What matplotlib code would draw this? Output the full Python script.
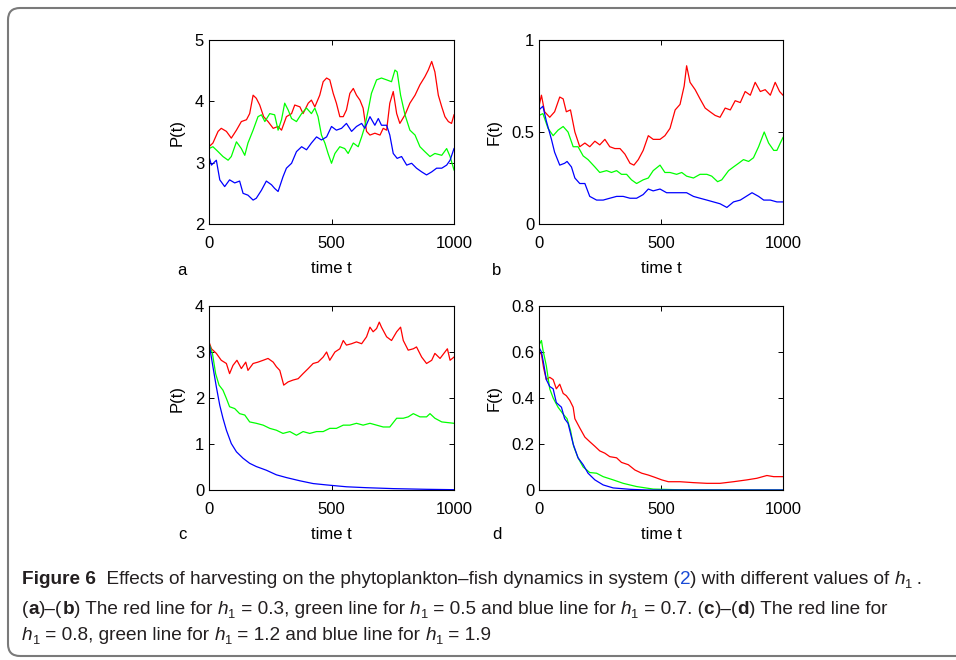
import matplotlib
matplotlib.use("Agg")
import matplotlib.pyplot as plt
import matplotlib.patches as mpatches
from matplotlib.transforms import IdentityTransform

# ---------------- data ----------------
# Panel a : P(t)
a_red_t = [0, 16, 37, 50, 71, 91, 112, 132, 153, 166, 180, 193, 207, 223, 241, 262, 282, 296, 316, 337, 350, 371, 384, 405, 418, 432, 452, 466, 480, 493, 507, 520, 534, 548, 561, 575, 589, 602, 616, 629, 643, 657, 677, 698, 711, 725, 738, 752, 766, 779, 800, 820, 841, 861, 881, 895, 909, 922, 936, 950, 963, 977, 990, 1000]
a_red_v = [3.26, 3.32, 3.51, 3.56, 3.51, 3.40, 3.53, 3.67, 3.70, 3.80, 4.10, 4.05, 3.94, 3.75, 3.67, 3.56, 3.59, 3.53, 3.75, 3.80, 3.94, 3.91, 3.80, 3.97, 4.02, 3.91, 4.10, 4.32, 4.38, 4.35, 4.13, 3.97, 3.75, 3.75, 3.86, 4.13, 4.21, 4.10, 4.02, 3.89, 3.51, 3.45, 3.48, 3.45, 3.56, 3.53, 3.97, 4.16, 3.80, 3.64, 3.78, 3.97, 4.10, 4.27, 4.40, 4.51, 4.65, 4.48, 4.10, 3.91, 3.75, 3.67, 3.64, 3.78]
a_green_t = [0, 16, 37, 57, 78, 91, 112, 132, 146, 159, 180, 200, 214, 228, 248, 268, 282, 296, 309, 323, 337, 357, 378, 398, 418, 432, 445, 459, 473, 486, 500, 514, 534, 554, 568, 589, 609, 623, 636, 650, 663, 684, 704, 725, 745, 759, 768, 782, 800, 820, 841, 861, 881, 902, 922, 950, 970, 984, 1000]
a_green_v = [3.23, 3.26, 3.18, 3.10, 3.04, 3.10, 3.34, 3.23, 3.12, 3.32, 3.53, 3.75, 3.78, 3.67, 3.80, 3.78, 3.53, 3.70, 3.97, 3.86, 3.72, 3.67, 3.80, 3.89, 3.80, 3.89, 3.75, 3.45, 3.32, 3.15, 2.99, 3.15, 3.26, 3.23, 3.15, 3.32, 3.26, 3.42, 3.59, 3.86, 4.13, 4.35, 4.38, 4.35, 4.32, 4.51, 4.48, 4.10, 3.78, 3.53, 3.45, 3.26, 3.18, 3.10, 3.15, 3.12, 3.23, 3.10, 2.88]
a_blue_t = [0, 10, 30, 44, 64, 84, 105, 125, 139, 159, 180, 193, 214, 234, 255, 268, 282, 302, 316, 337, 357, 378, 398, 418, 439, 459, 480, 500, 520, 541, 561, 582, 602, 623, 636, 657, 677, 691, 704, 725, 738, 752, 768, 786, 807, 827, 847, 868, 888, 909, 929, 950, 970, 984, 1000]
a_blue_v = [3.10, 2.96, 3.04, 2.72, 2.61, 2.72, 2.67, 2.70, 2.50, 2.47, 2.39, 2.42, 2.55, 2.70, 2.64, 2.58, 2.53, 2.77, 2.91, 2.99, 3.18, 3.26, 3.21, 3.32, 3.42, 3.37, 3.42, 3.59, 3.53, 3.56, 3.64, 3.51, 3.59, 3.64, 3.56, 3.75, 3.61, 3.72, 3.61, 3.61, 3.45, 3.15, 3.07, 3.10, 2.96, 2.99, 2.91, 2.85, 2.80, 2.85, 2.91, 2.91, 2.96, 3.04, 3.23]

# Panel b : F(t)
b_red_t = [0, 10, 23, 44, 64, 85, 99, 112, 129, 147, 167, 188, 208, 229, 249, 270, 290, 311, 332, 352, 373, 389, 407, 427, 448, 468, 496, 516, 537, 558, 578, 595, 605, 619, 640, 660, 681, 701, 722, 742, 763, 784, 804, 825, 845, 866, 886, 907, 927, 948, 968, 986, 1000]
b_red_v = [0.64, 0.70, 0.61, 0.58, 0.61, 0.69, 0.68, 0.61, 0.62, 0.50, 0.42, 0.44, 0.42, 0.45, 0.43, 0.46, 0.42, 0.41, 0.41, 0.38, 0.33, 0.32, 0.35, 0.40, 0.48, 0.46, 0.46, 0.48, 0.52, 0.62, 0.65, 0.75, 0.86, 0.77, 0.73, 0.68, 0.63, 0.61, 0.59, 0.58, 0.63, 0.62, 0.67, 0.66, 0.72, 0.70, 0.77, 0.72, 0.73, 0.70, 0.77, 0.72, 0.70]
b_green_t = [0, 16, 37, 58, 78, 99, 119, 140, 160, 181, 201, 229, 249, 277, 297, 318, 338, 359, 379, 400, 427, 448, 468, 496, 516, 537, 564, 585, 605, 633, 660, 688, 708, 732, 749, 777, 797, 818, 838, 859, 879, 900, 923, 941, 962, 975, 989, 1000]
b_green_v = [0.59, 0.60, 0.52, 0.48, 0.51, 0.53, 0.50, 0.42, 0.42, 0.37, 0.35, 0.31, 0.28, 0.29, 0.28, 0.29, 0.27, 0.27, 0.24, 0.22, 0.24, 0.25, 0.29, 0.32, 0.28, 0.28, 0.27, 0.28, 0.26, 0.25, 0.27, 0.27, 0.26, 0.23, 0.24, 0.29, 0.31, 0.33, 0.35, 0.34, 0.36, 0.42, 0.50, 0.44, 0.40, 0.40, 0.44, 0.47]
b_blue_t = [0, 16, 30, 51, 64, 85, 105, 115, 133, 147, 167, 188, 208, 236, 263, 290, 318, 345, 373, 400, 427, 448, 468, 496, 523, 551, 578, 605, 633, 660, 688, 715, 742, 770, 797, 825, 849, 873, 900, 921, 948, 975, 1000]
b_blue_v = [0.62, 0.64, 0.56, 0.46, 0.39, 0.32, 0.33, 0.34, 0.31, 0.25, 0.22, 0.22, 0.15, 0.13, 0.13, 0.14, 0.15, 0.15, 0.14, 0.14, 0.16, 0.19, 0.18, 0.19, 0.17, 0.17, 0.17, 0.17, 0.15, 0.14, 0.13, 0.12, 0.11, 0.09, 0.12, 0.13, 0.15, 0.17, 0.15, 0.13, 0.13, 0.12, 0.12]

# Panel c : P(t)
c_red_t = [0, 10, 30, 50, 71, 84, 98, 114, 132, 150, 159, 180, 200, 221, 241, 262, 275, 289, 305, 323, 343, 364, 384, 405, 425, 445, 466, 480, 493, 514, 534, 548, 561, 582, 602, 623, 643, 657, 670, 684, 695, 704, 725, 745, 766, 782, 793, 813, 834, 847, 868, 888, 909, 922, 943, 963, 973, 984, 1000]
c_red_v = [3.22, 3.07, 2.97, 2.82, 2.75, 2.53, 2.71, 2.82, 2.64, 2.78, 2.60, 2.75, 2.78, 2.82, 2.86, 2.78, 2.68, 2.60, 2.28, 2.35, 2.39, 2.42, 2.53, 2.64, 2.75, 2.78, 2.89, 3.00, 2.82, 3.00, 3.07, 3.25, 3.15, 3.18, 3.22, 3.18, 3.33, 3.54, 3.44, 3.51, 3.65, 3.54, 3.33, 3.25, 3.44, 3.54, 3.25, 3.04, 3.07, 3.11, 2.89, 2.75, 2.82, 2.97, 2.86, 3.00, 3.07, 2.82, 2.89]
c_green_t = [0, 14, 27, 41, 57, 71, 84, 105, 125, 146, 166, 193, 221, 248, 275, 302, 330, 357, 384, 411, 439, 466, 493, 520, 548, 575, 602, 629, 657, 684, 711, 738, 766, 793, 813, 834, 861, 888, 902, 922, 950, 1000]
c_green_v = [3.18, 2.97, 2.53, 2.28, 2.17, 1.99, 1.81, 1.77, 1.66, 1.63, 1.48, 1.45, 1.41, 1.34, 1.30, 1.23, 1.27, 1.19, 1.27, 1.23, 1.27, 1.27, 1.34, 1.34, 1.41, 1.41, 1.45, 1.41, 1.45, 1.41, 1.37, 1.37, 1.56, 1.56, 1.59, 1.66, 1.59, 1.59, 1.66, 1.56, 1.48, 1.45]
c_blue_t = [0, 16, 30, 44, 57, 71, 91, 112, 139, 166, 193, 234, 275, 316, 371, 425, 480, 561, 643, 752, 888, 1000]
c_blue_v = [3.20, 2.68, 2.24, 1.84, 1.56, 1.30, 1.01, 0.83, 0.69, 0.58, 0.51, 0.43, 0.33, 0.27, 0.20, 0.14, 0.11, 0.07, 0.05, 0.03, 0.015, 0.007]

# Panel d : F(t)
d_red_t = [0, 10, 19, 30, 44, 58, 71, 85, 99, 112, 126, 140, 147, 167, 188, 208, 229, 249, 270, 290, 318, 338, 366, 393, 421, 448, 475, 503, 530, 578, 633, 688, 742, 797, 852, 893, 934, 962, 1000]
d_red_v = [0.60, 0.59, 0.53, 0.48, 0.49, 0.48, 0.44, 0.46, 0.42, 0.41, 0.39, 0.36, 0.31, 0.27, 0.23, 0.21, 0.19, 0.17, 0.16, 0.145, 0.14, 0.12, 0.11, 0.087, 0.073, 0.065, 0.055, 0.044, 0.036, 0.036, 0.032, 0.029, 0.029, 0.036, 0.044, 0.051, 0.063, 0.058, 0.058]
d_green_t = [0, 10, 16, 30, 44, 58, 78, 99, 115, 129, 142, 160, 181, 208, 236, 263, 304, 345, 400, 468, 578, 1000]
d_green_v = [0.63, 0.65, 0.61, 0.54, 0.44, 0.40, 0.36, 0.33, 0.31, 0.26, 0.19, 0.14, 0.10, 0.076, 0.073, 0.058, 0.044, 0.029, 0.015, 0.004, 0.001, 0.0]
d_blue_t = [0, 10, 19, 30, 44, 58, 71, 92, 105, 119, 140, 160, 181, 201, 229, 263, 304, 373, 441, 1000]
d_blue_v = [0.62, 0.60, 0.55, 0.48, 0.45, 0.44, 0.38, 0.36, 0.31, 0.29, 0.20, 0.14, 0.11, 0.073, 0.044, 0.022, 0.009, 0.003, 0.0, 0.0]

x_ticks = [0, 500, 1000]
a_yticks = [2, 3, 4, 5]
b_yticks = [0, 0.5, 1]
c_yticks = [0, 1, 2, 3, 4]
d_yticks = [0, 0.2, 0.4, 0.6, 0.8]
a_ytick_labels = ["2", "3", "4", "5"]
b_ytick_labels = ["0", "0.5", "1"]
c_ytick_labels = ["0", "1", "2", "3", "4"]
d_ytick_labels = ["0", "0.2", "0.4", "0.6", "0.8"]

# ---------------- figure ----------------
W, H = 956, 660
DPI = 100
fig = plt.figure(figsize=(W / DPI, H / DPI), dpi=DPI)
fig.patch.set_facecolor("white")

AX_FONT = ["Liberation Sans", "DejaVu Sans"]
CAP_FONT = ["Liberation Sans", "DejaVu Sans"]
AX_SIZE = 12

RED, GREEN, BLUE = "#ff0000", "#00ff00", "#0000ff"


def px_axes(l, t, r, b):
    return fig.add_axes([l / W, 1 - b / H, (r - l) / W, (b - t) / H])


panels = [
    (px_axes(209, 40, 454, 224), [(a_red_t, a_red_v, RED), (a_green_t, a_green_v, GREEN), (a_blue_t, a_blue_v, BLUE)],
     (2, 5), a_yticks, a_ytick_labels, "P(t)", "a", (182, 275)),
    (px_axes(539, 40, 783, 224), [(b_red_t, b_red_v, RED), (b_green_t, b_green_v, GREEN), (b_blue_t, b_blue_v, BLUE)],
     (0, 1), b_yticks, b_ytick_labels, "F(t)", "b", (497, 275)),
    (px_axes(209, 306, 454, 490), [(c_red_t, c_red_v, RED), (c_green_t, c_green_v, GREEN), (c_blue_t, c_blue_v, BLUE)],
     (0, 4), c_yticks, c_ytick_labels, "P(t)", "c", (182, 539)),
    (px_axes(539, 306, 783, 490), [(d_red_t, d_red_v, RED), (d_green_t, d_green_v, GREEN), (d_blue_t, d_blue_v, BLUE)],
     (0, 0.8), d_yticks, d_ytick_labels, "F(t)", "d", (497, 539)),
]

for ax, series, ylim, yt, ytl, ylab, letter, lpos in panels:
    for t, v, c in series:
        ax.plot(t, v, color=c, lw=0.9, solid_joinstyle="round")
    ax.set_xlim(0, 1000)
    ax.set_ylim(*ylim)
    ax.set_xticks(x_ticks)
    ax.set_xticklabels([str(x) for x in x_ticks], fontfamily=AX_FONT, fontsize=AX_SIZE)
    ax.set_yticks(yt)
    ax.set_yticklabels(ytl, fontfamily=AX_FONT, fontsize=AX_SIZE)
    ax.tick_params(axis="both", direction="in", top=True, right=True, length=3.5, width=0.7, color="black")
    ax.tick_params(axis="x", pad=9)
    ax.tick_params(axis="y", pad=3.5)
    for s in ax.spines.values():
        s.set_linewidth(0.8)
    ax.set_xlabel("time t", fontfamily=AX_FONT, fontsize=AX_SIZE, labelpad=7)
    ax.set_ylabel(ylab, fontfamily=AX_FONT, fontsize=AX_SIZE, labelpad=7)
    fig.text(lpos[0] / W, 1 - lpos[1] / H, letter, fontfamily=AX_FONT, fontsize=AX_SIZE,
             ha="center", va="baseline")

# ---------------- border ----------------
border = mpatches.FancyBboxPatch((8, 4), 1000, 648, boxstyle="round,pad=0,rounding_size=12",
                                 transform=IdentityTransform(), facecolor="none",
                                 edgecolor="#7a7a7a", linewidth=1.5)
fig.patches.append(border)

# ---------------- caption ----------------
renderer = fig.canvas.get_renderer()
CAP_SIZE = 13.7
INK = "#231f20"
LINK = "#1a4bd6"


def text_width(s, props):
    t1 = fig.text(0, 0, "|" + s + "|", **props)
    t2 = fig.text(0, 0, "||", **props)
    w = t1.get_window_extent(renderer).width - t2.get_window_extent(renderer).width
    t1.remove()
    t2.remove()
    return w


def draw_runs(x, y, runs):
    for run in runs:
        s, weight, color = run[:3]
        style = run[3] if len(run) > 3 else "normal"
        scale = run[4] if len(run) > 4 else 1.0
        dy = run[5] if len(run) > 5 else 0
        props = dict(fontfamily=CAP_FONT, fontsize=CAP_SIZE * scale, fontweight=weight,
                     fontstyle=style, color=color)
        fig.text(x / W, 1 - (y + dy) / H, s, va="baseline", ha="left", **props)
        x += text_width(s, props)


def h1():
    return [("h", "normal", INK, "italic"), ("1", "normal", INK, "normal", 0.68, 3.5)]


line1 = ([("Figure 6", "bold", INK), ("  Effects of harvesting on the phytoplankton\u2013fish dynamics in system (", "normal", INK),
          ("2", "normal", LINK), (") with different values of ", "normal", INK)] + h1() + [("\u2009.", "normal", INK)])
line2 = ([("(", "normal", INK), ("a", "bold", INK), (")\u2013(", "normal", INK), ("b", "bold", INK),
          (") The red line for ", "normal", INK)] + h1() + [(" = 0.3, green line for ", "normal", INK)] + h1()
         + [(" = 0.5 and blue line for ", "normal", INK)] + h1()
         + [(" = 0.7. (", "normal", INK), ("c", "bold", INK), (")\u2013(", "normal", INK), ("d", "bold", INK),
            (") The red line for", "normal", INK)])
line3 = (h1() + [(" = 0.8, green line for ", "normal", INK)] + h1()
         + [(" = 1.2 and blue line for ", "normal", INK)] + h1() + [(" = 1.9", "normal", INK)])

draw_runs(22, 584, line1)
draw_runs(22, 614, line2)
draw_runs(22, 640, line3)

fig.savefig("out.png", dpi=DPI, facecolor="white")
